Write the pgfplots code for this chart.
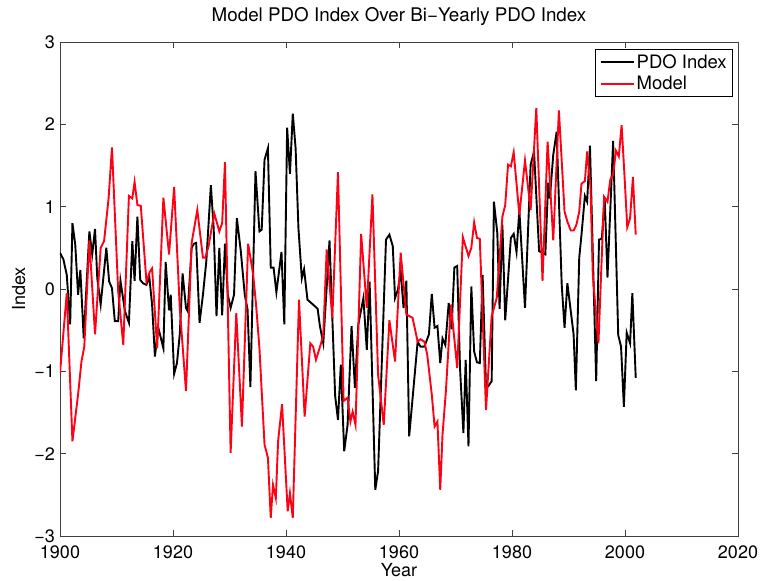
\documentclass[border=0pt]{standalone}
\usepackage{fontspec}
\setmainfont{TeX Gyre Heros}
\usepackage{pgfplots}
\usepackage{pgfplotstable}
\pgfplotsset{compat=1.18}

\pgfplotstableread{
year val
1900.0 0.44
1900.6 0.36
1901.2 0.17
1901.8 -0.43
1902.2 0.80
1902.7 0.54
1903.2 -0.07
1903.6 0.23
1904.2 -0.60
1905.2 0.70
1905.7 0.42
1906.2 0.73
1906.6 0.13
1907.2 -0.19
1908.2 0.50
1908.7 0.09
1909.2 0.01
1909.7 -0.39
1910.3 -0.39
1910.7 0.10
1911.5 -0.27
1912.2 -0.41
1912.8 0.58
1913.2 0.10
1913.7 0.88
1914.2 0.11
1914.7 0.07
1915.3 0.05
1915.8 0.15
1916.3 -0.19
1916.8 -0.82
1917.4 -0.47
1918.3 -0.72
1918.7 0.33
1919.3 -0.26
1919.6 -0.07
1920.2 -1.03
1920.7 -0.90
1921.2 -0.55
1921.7 0.19
1922.3 -0.23
1922.6 -0.27
1923.3 0.50
1923.7 0.55
1924.1 0.56
1924.7 -0.41
1925.3 -0.07
1925.9 0.34
1926.7 1.26
1927.2 0.74
1927.7 -0.33
1928.2 0.50
1928.7 -0.32
1929.2 0.55
1929.7 -0.07
1930.2 -0.23
1930.8 -0.07
1931.3 0.86
1932.0 0.46
1932.7 -0.07
1933.2 -0.25
1933.7 -1.19
1934.6 1.43
1935.3 0.70
1935.7 0.72
1936.2 1.57
1936.8 1.71
1937.3 0.26
1937.8 0.26
1938.3 -0.04
1939.2 0.45
1939.7 -0.43
1940.2 1.96
1940.7 1.40
1941.2 2.13
1941.7 1.71
1942.2 0.74
1942.8 0.13
1943.2 0.24
1943.8 -0.13
1944.8 -0.19
1945.6 -0.24
1946.0 -0.45
1946.6 -0.66
1947.7 0.59
1948.2 -0.35
1948.7 -1.30
1949.2 -1.59
1949.7 -0.92
1950.3 -1.97
1950.9 -1.65
1951.6 -0.45
1952.2 -1.20
1952.8 -0.43
1953.7 -0.11
1954.3 -0.74
1954.8 0.09
1955.8 -2.44
1956.3 -2.21
1957.7 0.60
1958.3 0.66
1958.9 0.52
1959.3 -0.11
1959.8 -0.01
1960.3 0.21
1960.8 -0.23
1961.3 0.10
1961.8 -1.79
1963.3 -0.64
1963.8 -0.70
1964.5 -0.70
1965.3 -0.55
1965.8 -0.06
1966.3 -0.47
1966.8 -0.45
1967.3 -0.90
1967.7 -0.60
1968.2 -0.68
1968.8 -0.17
1969.3 -0.49
1969.8 0.26
1970.3 0.28
1970.8 -0.96
1971.4 -1.75
1971.8 -0.86
1972.3 -1.91
1972.8 0.03
1973.3 -0.76
1973.8 -0.89
1974.3 -0.90
1974.8 0.17
1975.4 -1.20
1975.8 -1.18
1976.4 -1.12
1976.8 1.06
1977.4 0.68
1977.8 -0.24
1978.3 0.78
1978.8 -0.38
1979.8 0.62
1980.3 0.67
1980.8 0.45
1981.3 0.96
1982.3 -0.23
1983.3 1.51
1983.9 1.67
1984.8 0.46
1985.9 0.42
1986.4 1.29
1986.7 1.10
1987.3 1.63
1987.9 1.91
1988.8 0.05
1989.3 -0.47
1989.8 0.07
1990.9 -0.55
1991.3 -1.23
1991.9 0.38
1992.3 0.66
1992.9 1.13
1993.3 1.06
1993.8 1.74
1994.9 -1.12
1995.4 0.60
1995.9 0.61
1996.4 1.11
1996.9 0.14
1997.9 1.80
1998.8 -0.56
1999.3 -0.70
1999.8 -1.43
2000.3 -0.53
2000.9 -0.66
2001.3 -0.05
2001.9 -1.08
}\pdotable

\pgfplotstableread{
year val
1900.0 -1.02
1901.2 -0.05
1902.2 -1.85
1903.2 -1.28
1903.8 -0.88
1904.3 -0.70
1905.2 0.59
1906.2 -0.55
1907.2 0.50
1907.8 0.58
1908.6 1.10
1909.2 1.72
1910.3 -0.03
1911.2 -0.68
1912.2 1.13
1912.8 1.10
1913.2 1.30
1913.7 1.02
1914.3 1.01
1915.3 0.09
1915.9 0.21
1916.3 0.25
1917.2 -0.72
1918.3 1.11
1919.3 0.42
1920.2 1.24
1921.2 -0.23
1922.3 -1.24
1923.3 0.56
1924.3 0.96
1925.3 0.38
1925.7 0.38
1926.3 0.52
1927.3 0.92
1928.2 0.70
1928.7 0.80
1929.2 1.54
1930.2 -1.99
1931.2 -0.29
1932.2 -1.67
1933.3 0.55
1934.2 0.17
1934.7 -0.19
1935.3 -0.72
1936.2 -1.89
1936.8 -2.05
1937.3 -2.78
1937.7 -2.38
1938.2 -2.54
1938.6 -1.85
1939.3 -1.40
1940.3 -2.70
1940.7 -2.48
1941.2 -2.78
1942.3 -0.13
1943.3 -1.55
1944.3 -0.66
1944.8 -0.70
1945.3 -0.86
1946.2 -0.66
1946.6 -0.55
1947.2 0.48
1948.2 -0.35
1949.2 1.42
1950.2 -1.36
1950.9 -1.32
1951.4 -1.61
1951.8 -1.49
1952.3 -1.65
1953.3 0.67
1954.3 -0.23
1955.3 1.15
1956.3 -1.04
1957.3 -1.65
1958.3 -0.38
1959.3 -0.88
1960.3 0.44
1961.3 -0.31
1962.4 -0.35
1963.3 -0.64
1963.8 -0.61
1964.5 -0.64
1965.0 -0.80
1965.8 -1.28
1966.3 -1.67
1966.8 -1.61
1967.3 -2.44
1967.7 -1.77
1968.3 -1.24
1969.2 -0.19
1970.3 -0.96
1971.3 0.63
1972.3 0.40
1972.8 0.50
1973.3 0.81
1973.8 0.62
1974.3 0.61
1975.4 -1.47
1976.4 -0.33
1976.8 -0.23
1977.3 -0.11
1978.3 0.88
1978.8 1.02
1979.3 1.51
1979.8 1.49
1980.3 1.66
1981.3 0.90
1982.3 1.56
1983.3 0.96
1984.3 2.20
1985.4 0.10
1986.3 1.79
1987.3 0.59
1988.3 2.17
1989.3 0.94
1989.8 0.82
1990.4 0.71
1990.9 0.71
1991.4 0.78
1991.9 0.94
1992.3 1.28
1992.9 1.31
1993.3 1.67
1993.9 1.23
1994.3 0.17
1995.3 -0.66
1996.3 1.12
1996.9 1.06
1997.4 1.33
1997.9 1.39
1998.4 1.68
1998.9 1.61
1999.4 1.99
1999.9 1.39
2000.4 0.75
2000.9 0.86
2001.4 1.36
2001.9 0.66
}\modeltable

\definecolor{modelred}{RGB}{255,0,20}

\begin{document}
\begin{tikzpicture}[font=\fontsize{18bp}{21bp}\selectfont]
\path[use as bounding box] (-60bp,-45bp) rectangle (704bp,536bp);
\begin{axis}[
  scale only axis,
  width=678bp, height=494bp,
  xmin=1900, xmax=2020, ymin=-3, ymax=3,
  xtick={1900,1920,...,2020},
  ytick={-3,-2,-1,0,1,2,3},
  yticklabels={−3,−2,−1,0,1,2,3},
  /pgf/number format/assume math mode=true,
  /pgf/number format/1000 sep={},
  tick align=inside,
  major tick length=6bp,
  axis line style={black!75, line width=0.6bp},
  every tick/.style={black!75, line width=0.6bp},
  xticklabel style={anchor=base, yshift=-22.5bp, inner sep=0pt},
  yticklabel style={anchor=east, inner sep=0pt, xshift=-5bp},
  title={Model PDO Index Over Bi−Yearly PDO Index},
  title style={at={(axis description cs:0.5,1.0298)}, anchor=base, inner sep=0pt,
    font=\fontsize{18.8bp}{22bp}\selectfont},
  xlabel={Year},
  xlabel style={at={(axis description cs:0.5,-0.081)}, anchor=base, inner sep=0pt},
  ylabel={Index},
  ylabel style={at={(axis description cs:-0.0516,0.5)}, anchor=base, inner sep=0pt},
  legend style={at={(axis description cs:1,1)}, anchor=north east, xshift=-5bp, yshift=-7bp,
    draw=black, line width=0.6bp, fill=white, inner xsep=4bp, inner ysep=3.5bp,
    row sep=2bp, font=\fontsize{18.5bp}{21bp}\selectfont,
    legend cell align=left},
  legend image code/.code={\draw[#1, line width=1.9bp] (0bp,0bp) -- (33bp,0bp);},
]
\addplot[black, line width=1.9bp] table[x=year, y=val] {\pdotable};
\addlegendentry{PDO Index}
\addplot[modelred, line width=1.9bp] table[x=year, y=val] {\modeltable};
\addlegendentry{Model}
\end{axis}
\end{tikzpicture}
\end{document}
